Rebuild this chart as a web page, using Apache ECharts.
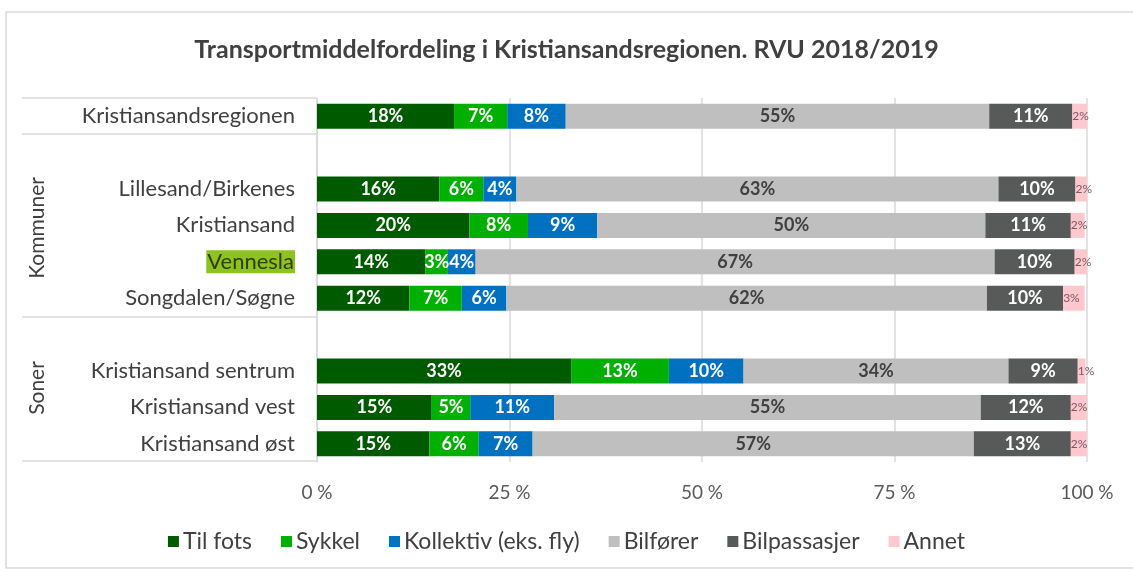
<!DOCTYPE html>
<html>
<head>
<meta charset="utf-8">
<script src="https://cdn.jsdelivr.net/npm/echarts@6/dist/echarts.min.js"></script>
<style>
  html, body { margin: 0; padding: 0; background: #fff; }
  #chart { width: 1133px; height: 573px; }
</style>
</head>
<body>
<div id="chart"></div>
<script>
// rows top to bottom, '' = spacer rows between groups
const categories = ['Kristiansandsregionen', '', 'Lillesand/Birkenes', 'Kristiansand', 'Vennesla', 'Songdalen/Søgne', '', 'Kristiansand sentrum', 'Kristiansand vest', 'Kristiansand øst']
const seriesNames = ['Til fots', 'Sykkel', 'Kollektiv (eks. fly)', 'Bilfører', 'Bilpassasjer', 'Annet']

const tilFots     = [17.8, null, 15.9, 19.8, 14.1, 12.0, null, 33.0, 14.9, 14.6]
const sykkel      = [6.9,  null, 5.7,  7.6,  2.9,  6.8,  null, 12.7, 5.0,  6.4]
const kollektiv   = [7.6,  null, 4.3,  9.0,  3.6,  5.8,  null, 9.7,  10.9, 7.0]
const bilforer    = [55.0, null, 62.6, 50.4, 67.4, 62.4, null, 34.4, 55.4, 57.3]
const bilpassasjer= [10.8, null, 10.0, 11.1, 10.4, 9.9,  null, 9.0,  11.7, 12.6]
const annet       = [1.9,  null, 1.6,  1.8,  1.6,  2.8,  null, 1.0,  2.1,  2.1]

const xTicks = [0, 25, 50, 75, 100]
const groupLabels = ['Kommuner', 'Soner']

const colors = ['#005a00', '#00b000', '#0070c0', '#bfbfbf', '#585a59', '#ffc7ce']
const labelColors = ['#fff', '#fff', '#fff', '#404040', '#fff', '#7a5a60']

const chart = echarts.init(document.getElementById('chart'))
const font = 'Lato, "Open Sans", sans-serif'

const makeSeries = (name, data, i) => ({
  name,
  type: 'bar',
  stack: 'total',
  barWidth: 25,
  data,
  itemStyle: { color: colors[i] },
  label: {
    show: true,
    position: i === 5 ? 'insideLeft' : 'inside',
    distance: 0,
    color: labelColors[i],
    fontFamily: font,
    fontWeight: i === 5 ? 'normal' : 'bold',
    fontSize: i === 5 ? 12 : 18,
    formatter: (p) => p.value == null ? '' : Math.round(p.value) + '%'
  }
})

const allData = [tilFots, sykkel, kollektiv, bilforer, bilpassasjer, annet]

// left side separators / frame
const lineStyle = { stroke: '#d9d9d9', lineWidth: 1.5 }
const hLine = (y) => ({ type: 'line', shape: { x1: 22, y1: y, x2: 316, y2: y }, style: lineStyle, silent: true })

chart.setOption({
  animation: false,
  title: {
    text: 'Transportmiddelfordeling i Kristiansandsregionen. RVU 2018/2019',
    left: 'center',
    top: 32,
    textStyle: { fontFamily: font, fontSize: 25, fontWeight: 'bold', color: '#404040' }
  },
  legend: {
    data: seriesNames,
    bottom: 15,
    left: 'center',
    itemWidth: 11,
    itemHeight: 11,
    itemGap: 29,
    icon: 'rect',
    textStyle: { fontFamily: font, fontSize: 23, color: '#404040', padding: [0, 0, 0, -1] }
  },
  grid: { left: 317, right: 46, top: 98, height: 364, containLabel: false },
  xAxis: {
    type: 'value',
    min: xTicks[0],
    max: xTicks[xTicks.length - 1],
    interval: 25,
    axisLine: { show: false },
    axisTick: { show: false },
    splitLine: { lineStyle: { color: '#d9d9d9', width: 1.5 } },
    axisLabel: { margin: 21, formatter: '{value} %', fontFamily: font, fontSize: 19, color: '#595959' }
  },
  yAxis: {
    type: 'category',
    data: categories,
    inverse: true,
    axisLine: { show: true, lineStyle: { color: '#d9d9d9', width: 1.5 } },
    axisTick: { show: false },
    axisLabel: {
      margin: 22,
      fontFamily: font,
      fontSize: 22,
      color: '#404040',
      formatter: (v) => v === 'Vennesla' ? '{hl|' + v + '}' : v,
      rich: {
        hl: { backgroundColor: '#8dc21f', color: '#2f3f0a', fontFamily: font, fontSize: 22, padding: [1, 1, 0, 1] }
      }
    }
  },
  graphic: [
    { type: 'rect', shape: { x: 6, y: 12, width: 1140, height: 556 }, style: { fill: 'none', stroke: '#d9d9d9', lineWidth: 1.5 }, silent: true },
    hLine(98), hLine(134), hLine(317), hLine(461),
    { type: 'text', x: 37, y: 228, rotation: Math.PI / 2, style: { text: groupLabels[0], fontFamily: font, fontSize: 21, fill: '#404040', align: 'center', verticalAlign: 'middle' } },
    { type: 'text', x: 37, y: 388, rotation: Math.PI / 2, style: { text: groupLabels[1], fontFamily: font, fontSize: 21, fill: '#404040', align: 'center', verticalAlign: 'middle' } }
  ],
  series: seriesNames.map((n, i) => makeSeries(n, allData[i], i))
})
</script>
</body>
</html>
